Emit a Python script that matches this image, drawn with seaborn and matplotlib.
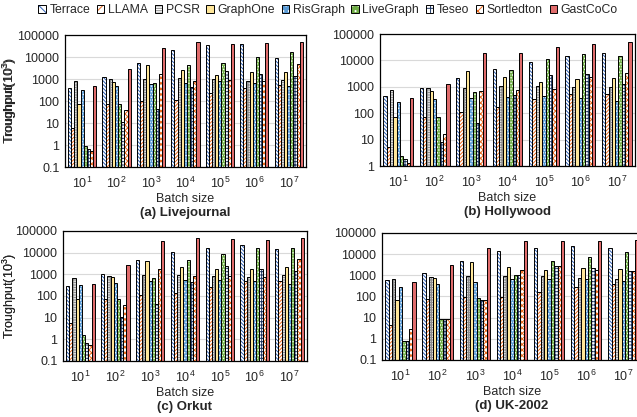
import pandas as pd
import matplotlib
matplotlib.use("Agg")
import matplotlib.pyplot as plt
import seaborn as sns
from matplotlib.patches import Patch, Rectangle
from matplotlib.ticker import NullLocator

batch_sizes = ["$\\mathregular{10^{%d}}$" % i for i in range(1, 8)]
systems = ["Terrace", "LLAMA", "PCSR", "GraphOne", "RisGraph",
           "LiveGraph", "Teseo", "Sortledton", "GastCoCo"]

# throughput (10^3) per system, one value per batch size 10^1 .. 10^7
livejournal = {
    "Terrace":    [400, 1230, 5500, 21500, 34000, 39000, 9300],
    "LLAMA":      [5.9, 73, 100, 115, 224, 400, 510],
    "PCSR":       [830, 960, 1040, 1070, 960, 830, 900],
    "GraphOne":   [70, 700, 4500, 2470, 1470, 2000, 2000],
    "RisGraph":   [316, 465, 575, 660, 810, 680, 465],
    "LiveGraph":  [0.87, 70, 680, 4500, 5500, 10400, 16300],
    "Teseo":      [0.68, 10.7, 43, 433, 2300, 1740, 1370],
    "Sortledton": [0.52, 38, 1740, 830, 870, 810, 5000],
    "GastCoCo":   [500, 2750, 24700, 50000, 40000, 42000, 46500],
}
hollywood = {
    "Terrace":    [455, 870, 2200, 4700, 8400, 14200, 19500],
    "LLAMA":      [5.4, 69, 113, 165, 360, 540, 540],
    "PCSR":       [740, 910, 940, 1100, 1100, 1000, 1020],
    "GraphOne":   [69, 725, 4070, 2400, 1550, 1900, 2250],
    "RisGraph":   [260, 350, 370, 415, 445, 390, 300],
    "LiveGraph":  [2.45, 69, 650, 4450, 10900, 17000, 15000],
    "Teseo":      [1.8, 8.4, 44, 470, 2700, 2950, 1230],
    "Sortledton": [1.35, 16, 725, 790, 815, 2460, 3300],
    "GastCoCo":   [370, 1300, 19500, 18500, 33000, 41700, 51000],
}
orkut = {
    "Terrace":    [300, 1040, 4600, 10400, 15800, 22600, 14300],
    "LLAMA":      [5.6, 75, 110, 137, 270, 490, 490],
    "PCSR":       [680, 870, 960, 960, 810, 750, 960],
    "GraphOne":   [72, 750, 4150, 2180, 1770, 1770, 2180],
    "RisGraph":   [320, 415, 490, 530, 565, 490, 355],
    "LiveGraph":  [1.6, 75, 680, 4600, 8700, 16400, 15800],
    "Teseo":      [0.7, 11, 43, 460, 2350, 1770, 1420],
    "Sortledton": [0.55, 38, 1770, 830, 830, 750, 4950],
    "GastCoCo":   [360, 2700, 35700, 47600, 41000, 38500, 45600],
}
uk2002 = {
    "Terrace":    [590, 1260, 4650, 14700, 20400, 24400, 20400],
    "LLAMA":      [4.5, 78, 97, 97, 160, 295, 410],
    "PCSR":       [680, 820, 910, 940, 910, 740, 660],
    "GraphOne":   [72, 710, 4300, 2500, 1690, 2170, 1950],
    "RisGraph":   [285, 410, 490, 660, 660, 660, 550],
    "LiveGraph":  [0.79, 8.3, 84, 1050, 4800, 7100, 12800],
    "Teseo":      [0.82, 8.3, 65, 1020, 2700, 2170, 1570],
    "Sortledton": [3.0, 8.3, 65, 1870, 2700, 1870, 1570],
    "GastCoCo":   [510, 3000, 19600, 42000, 40600, 40600, 45000],
}

# face colour, hatch colour, hatch pattern
styles = {
    "Terrace":    ("white", "#2F5FB3", "\\" * 9),
    "LLAMA":      ("white", "#E8691E", "/" * 9),
    "PCSR":       ("white", "#8C8C8C", "-" * 10 + "|" * 4),
    "GraphOne":   ("#FFE699", None, ""),
    "RisGraph":   ("#5B9BD5", "white", "." * 6),
    "LiveGraph":  ("#70AD47", "white", "." * 6),
    "Teseo":      ("white", "#1F3864", "+" * 5),
    "Sortledton": ("white", "#E8691E", "x" * 6),
    "GastCoCo":   ("#E06C6C", None, ""),
}

sns.set_style("white")
plt.rcParams["font.family"] = ["Liberation Sans", "DejaVu Sans"]
plt.rcParams["mathtext.fontset"] = "custom"
plt.rcParams["mathtext.rm"] = "Liberation Sans"
plt.rcParams["hatch.linewidth"] = 0.7


def to_long(data):
    rows = []
    for s in systems:
        for b, v in zip(batch_sizes, data[s]):
            rows.append({"batch": b, "system": s, "value": v})
    return pd.DataFrame(rows)


def draw_panel(ax, data, title, ymin):
    df = to_long(data)
    sns.barplot(data=df, x="batch", y="value", hue="system", order=batch_sizes,
                hue_order=systems, palette=[styles[s][0] for s in systems],
                width=0.82, saturation=1, errorbar=None, legend=False, ax=ax)
    for s, cont in zip(systems, ax.containers):
        face, hcol, pat = styles[s]
        for bar in cont:
            bar.set_facecolor(face)
            bar.set_linewidth(0)
            if pat:
                bar.set_edgecolor(hcol)
                bar.set_hatch(pat)
            ax.add_patch(Rectangle(bar.get_xy(), bar.get_width(), bar.get_height(),
                                   fill=False, ec="black", lw=0.7, zorder=bar.get_zorder() + 0.1))
    ax.set_yscale("log")
    ticks = [t for t in [0.1, 1, 10, 100, 1000, 10000, 100000] if t >= ymin]
    ax.set_ylim(ymin, 100000)
    ax.set_yticks(ticks)
    ax.set_yticklabels([("%g" % t) if t < 1 else str(int(t)) for t in ticks])
    ax.yaxis.set_minor_locator(NullLocator())
    ax.yaxis.grid(True, color="#D9D9D9", lw=0.8)
    ax.set_axisbelow(True)
    ax.tick_params(axis="both", length=0, labelsize=9)
    ax.tick_params(axis="x", pad=6)
    ax.tick_params(axis="y", pad=4)
    for sp in ax.spines.values():
        sp.set_visible(True)
        sp.set_color("black")
        sp.set_linewidth(0.9)
    ax.set_xlabel("Batch size", fontsize=9, labelpad=1.5)
    ax.set_ylabel("Troughput(10$^3$)", fontsize=9)
    width_px = ax.get_position().width * fig.get_figwidth() * fig.dpi
    left_px = ax.get_position().x0 * fig.get_figwidth() * fig.dpi
    ax.yaxis.set_label_coords(-(left_px - 19) / width_px, 0.5)
    ax.annotate(title, xy=(0.5, 0), xycoords="axes fraction", xytext=(0, -33),
                textcoords="offset points", ha="center", va="center",
                fontsize=9.5, fontweight="bold")


fig = plt.figure(figsize=(6.37, 4.17), dpi=100)
ax_a = fig.add_axes([0.102, 0.5995, 0.3783, 0.3165])
ax_b = fig.add_axes([0.5966, 0.6019, 0.4003, 0.3165])
ax_c = fig.add_axes([0.0989, 0.1343, 0.383, 0.3118])
ax_d = fig.add_axes([0.5997, 0.1367, 0.408, 0.3046])

draw_panel(ax_a, livejournal, "(a) Livejournal", 0.1)
draw_panel(ax_b, hollywood, "(b) Hollywood", 1)
draw_panel(ax_c, orkut, "(c) Orkut", 0.1)
draw_panel(ax_d, uk2002, "(d) UK-2002", 0.1)

handles = []
for s in systems:
    face, hcol, pat = styles[s]
    outline = Patch(facecolor="none", edgecolor="black", lw=0.7)
    if pat:
        fill = Patch(facecolor=face, edgecolor=hcol, hatch=pat[:max(3, len(pat) // 2)], lw=0)
        handles.append((fill, outline))
    else:
        handles.append(Patch(facecolor=face, edgecolor="black", lw=0.7))
fig.legend(handles, systems, loc="center", bbox_to_anchor=(0.515, 0.976), ncol=9,
           frameon=False, fontsize=8.8, handlelength=0.6, handleheight=0.6,
           handletextpad=0.3, columnspacing=0.55, borderaxespad=0, borderpad=0)

fig.savefig("out.png", dpi=100)
